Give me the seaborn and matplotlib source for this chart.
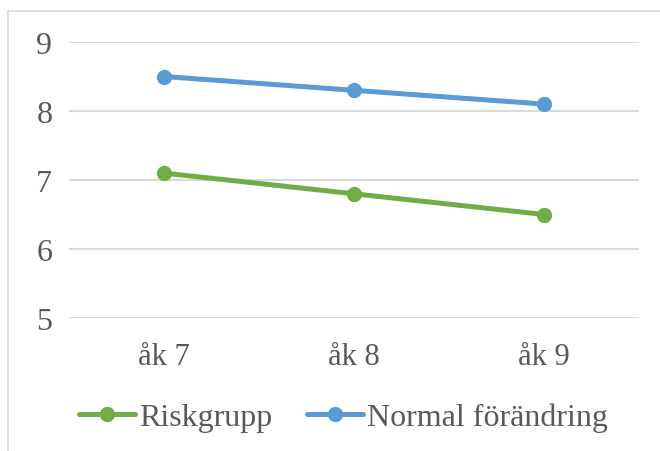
import numpy as np
import pandas as pd
import matplotlib
matplotlib.use("Agg")
import matplotlib.pyplot as plt
import seaborn as sns
from matplotlib.lines import Line2D

grades = ["åk 7", "åk 8", "åk 9"]
risk = [7.1, 6.8, 6.5]
normal = [8.5, 8.3, 8.1]
series = ["Riskgrupp", "Normal förändring"]
colors = ["#70ad47", "#5b9bd5"]

df = pd.DataFrame({
    "grade": grades * 2,
    "value": risk + normal,
    "group": [series[0]] * 3 + [series[1]] * 3,
})

sns.set_style("white")
plt.rcParams["font.family"] = ["Liberation Serif", "DejaVu Serif"]
txt = "#595959"

fig = plt.figure(figsize=(6.6, 4.52), dpi=100)
ax = fig.add_axes([69 / 660, 1 - 319 / 452, 570 / 660, 276 / 452])

sns.lineplot(data=df, x="grade", y="value", hue="group", hue_order=series,
             palette=colors, marker="o", markersize=11, markeredgewidth=0,
             linewidth=3.6, sort=False, ax=ax, legend=False)

ax.set_ylim(5, 9)
ax.set_xlim(-0.5, 2.5)
ax.set_yticks([5, 6, 7, 8, 9])
ax.grid(axis="y", color="#d9d9d9", linewidth=1.5)
ax.set_axisbelow(True)
for s in ax.spines.values():
    s.set_visible(False)
ax.set_xlabel("")
ax.set_ylabel("")
ax.tick_params(axis="both", length=0, labelsize=22, colors=txt)
ax.tick_params(axis="y", labelsize=23, pad=12)
ax.tick_params(axis="x", pad=17)

handles = [Line2D([], [], color=c, marker="o", markersize=11, markeredgewidth=0,
                  linewidth=3.6) for c in colors]
fig.legend(handles, series, loc="center", bbox_to_anchor=(0.52, 1 - 418 / 452),
           ncol=2, frameon=False, fontsize=23, labelcolor=txt,
           handlelength=1.75, handletextpad=0.12, columnspacing=1.1)

# chart frame (partially visible)
fig.add_artist(Line2D([8 / 660, 1], [1 - 12 / 452] * 2, transform=fig.transFigure,
                      color="#d9d9d9", linewidth=1.2))
fig.add_artist(Line2D([8 / 660] * 2, [0, 1 - 12 / 452], transform=fig.transFigure,
                      color="#d9d9d9", linewidth=1.2))

fig.savefig("out.png", dpi=100)
